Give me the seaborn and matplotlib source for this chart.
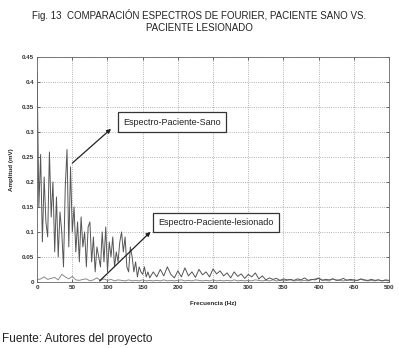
import matplotlib
matplotlib.use("Agg")
import matplotlib.pyplot as plt
import numpy as np
import pandas as pd
import seaborn as sns

# frequency axis (Hz) for the healthy patient, fine step where the spectrum is busy
freq_sano = [0, 2.5, 5, 7.5, 10, 12.5, 15, 17.5, 20, 22.5, 25, 27.5, 30, 32.5, 35,
             37.5, 40, 42.5, 45, 47.5, 50, 52.5, 55, 57.5, 60, 62.5, 65, 67.5, 70,
             72.5, 75, 77.5, 80, 82.5, 85, 87.5, 90, 92.5, 95, 97.5, 100, 102.5, 105,
             107.5, 110, 112.5, 115, 117.5, 120, 122.5, 125, 127.5, 130, 132.5, 135,
             137.5, 140, 142.5, 145, 147.5, 150, 152.5, 155, 157.5, 160,
             165, 170, 175, 180, 185, 190, 195, 200, 205, 210, 215, 220, 225, 230,
             235, 240, 245, 250, 255, 260, 265, 270, 275, 280, 285, 290, 295, 300,
             305, 310, 315, 320, 325, 330, 335, 340, 345, 350, 355, 360, 365, 370,
             375, 380, 385, 390, 395, 400, 405, 410, 415, 420, 425, 430, 435, 440,
             445, 450, 455, 460, 465, 470, 475, 480, 485, 490, 495, 500]
amp_sano = [0.42, 0.15, 0.255, 0.08, 0.21, 0.12, 0.09, 0.26, 0.13, 0.2, 0.06, 0.17,
            0.05, 0.14, 0.1, 0.03, 0.19, 0.265, 0.07, 0.23, 0.1, 0.15, 0.06, 0.12,
            0.04, 0.13, 0.07, 0.1, 0.03, 0.11, 0.12, 0.04, 0.09, 0.02, 0.07, 0.05,
            0.03, 0.1, 0.04, 0.11, 0.02, 0.08, 0.05, 0.09, 0.03, 0.06, 0.04, 0.08,
            0.1, 0.06, 0.09, 0.03, 0.02, 0.07, 0.05, 0.02, 0.04, 0.01, 0.03, 0.02,
            0.015, 0.03, 0.01, 0.02, 0.008,
            0.02, 0.01, 0.025, 0.012, 0.03, 0.015, 0.008, 0.022, 0.01, 0.028, 0.012,
            0.02, 0.009, 0.025, 0.014, 0.02, 0.01, 0.026, 0.016, 0.022, 0.012, 0.018,
            0.008, 0.02, 0.011, 0.016, 0.007, 0.015, 0.01, 0.018, 0.006, 0.012,
            0.004, 0.008, 0.005, 0.007, 0.003, 0.006, 0.004, 0.005, 0.003, 0.006,
            0.004, 0.008, 0.003, 0.005, 0.004, 0.007, 0.003, 0.005, 0.004, 0.006,
            0.003, 0.004, 0.007, 0.003, 0.005, 0.004, 0.003, 0.006, 0.004, 0.003,
            0.005, 0.003, 0.004, 0.002, 0.004, 0.003]

# injured patient: flat, low spectrum
freq_lesionado = [0, 5, 10, 15, 20, 25, 30, 35, 40, 45, 50, 55, 60, 65, 70, 75, 80,
                  85, 90, 95, 100, 105, 110, 115, 120, 125, 130, 135, 140, 145, 150,
                  155, 160, 165, 170, 175, 180, 185, 190, 195, 200, 205, 210, 215,
                  220, 225, 230, 235, 240, 245, 250, 255, 260, 265, 270, 275, 280,
                  285, 290, 295, 300, 305, 310, 315, 320, 325, 330, 335, 340, 345,
                  350, 355, 360, 365, 370, 375, 380, 385, 390, 395, 400, 405, 410,
                  415, 420, 425, 430, 435, 440, 445, 450, 455, 460, 465, 470, 475,
                  480, 485, 490, 495, 500]
amp_lesionado = [0.004, 0.006, 0.01, 0.005, 0.007, 0.009, 0.004, 0.015, 0.01, 0.006,
                 0.011, 0.004, 0.003, 0.005, 0.006, 0.002, 0.004, 0.008, 0.003,
                 0.006, 0.003, 0.005, 0.002, 0.004, 0.003, 0.002, 0.004, 0.002,
                 0.003, 0.002, 0.004, 0.002, 0.003, 0.002, 0.003, 0.002, 0.004,
                 0.002, 0.003, 0.002, 0.003, 0.004, 0.002, 0.003, 0.002, 0.004,
                 0.003, 0.002, 0.003, 0.002, 0.004, 0.002, 0.003, 0.002, 0.003,
                 0.002, 0.004, 0.002, 0.003, 0.002, 0.003, 0.002, 0.004, 0.003,
                 0.002, 0.003, 0.002, 0.004, 0.002, 0.003, 0.002, 0.003, 0.004,
                 0.002, 0.003, 0.002, 0.003, 0.002, 0.004, 0.006, 0.008, 0.004,
                 0.003, 0.002, 0.006, 0.004, 0.003, 0.002, 0.004, 0.003, 0.002,
                 0.003, 0.005, 0.003, 0.002, 0.003, 0.002, 0.004, 0.002, 0.003, 0.002]

x_ticks = [0, 50, 100, 150, 200, 250, 300, 350, 400, 450, 500]
y_ticks = [0, 0.05, 0.1, 0.15, 0.2, 0.25, 0.3, 0.35, 0.4, 0.45]
y_tick_labels = ["0", "0.05", "0.1", "0.15", "0.2", "0.25", "0.3", "0.35", "0.4", "0.45"]

sns.set_theme(style="ticks")
plt.rcParams["font.family"] = ["Liberation Sans", "DejaVu Sans"]

df_sano = pd.DataFrame({"f": freq_sano, "a": amp_sano})
df_les = pd.DataFrame({"f": freq_lesionado, "a": amp_lesionado})

fig = plt.figure(figsize=(3.99, 3.48), dpi=100)
ax = fig.add_axes([0.093, 0.19, 0.882, 0.646])

sns.lineplot(data=df_les, x="f", y="a", ax=ax, color="#8a8a8a", lw=0.7)
sns.lineplot(data=df_sano, x="f", y="a", ax=ax, color="#555555", lw=0.7)

ax.set_xlim(0, 500)
ax.set_ylim(0, 0.45)
ax.set_xticks(x_ticks)
ax.set_yticks(y_ticks)
ax.set_yticklabels(y_tick_labels)
ax.tick_params(direction="in", length=2, width=0.5, labelsize=4.5, pad=2,
               top=True, right=True, colors="#333333")
for lbl in ax.get_xticklabels() + ax.get_yticklabels():
    lbl.set_fontweight("bold")
ax.grid(True, linestyle=":", color="#999999", lw=0.6)
for s in ax.spines.values():
    s.set_linewidth(0.6)
    s.set_color("#666666")
ax.set_xlabel("Frecuencia (Hz)", fontsize=4.5, fontweight="bold", labelpad=8)
ax.set_ylabel("Amplitud (mV)", fontsize=4.5, fontweight="bold", labelpad=6)

# annotations
box = dict(boxstyle="square,pad=0.6", fc="white", ec="#333333", lw=0.9)
arrow = dict(arrowstyle="-|>", color="#222222", lw=0.9, mutation_scale=6)
ax.text(192, 0.32, "Espectro-Paciente-Sano", fontsize=6.5, ha="center", va="center",
        bbox=box, color="#222222")
ax.annotate("", xy=(108, 0.31), xytext=(47, 0.234), arrowprops=arrow)
ax.text(254, 0.119, "Espectro-Paciente-lesionado", fontsize=6.5, ha="center",
        va="center", bbox=box, color="#222222")
ax.annotate("", xy=(164, 0.104), xytext=(86, -0.002), arrowprops=arrow,
            annotation_clip=False)

fig.text(0.5, 0.957, "Fig. 13  COMPARACIÓN ESPECTROS DE FOURIER, PACIENTE SANO VS.",
         ha="center", va="center", fontsize=7, color="#222222")
fig.text(0.5, 0.92, "PACIENTE LESIONADO", ha="center", va="center", fontsize=7,
         color="#222222")
fig.text(0.005, 0.026, "Fuente: Autores del proyecto", ha="left", va="center",
         fontsize=8.5, color="#222222")

fig.savefig("out.png", dpi=100)
